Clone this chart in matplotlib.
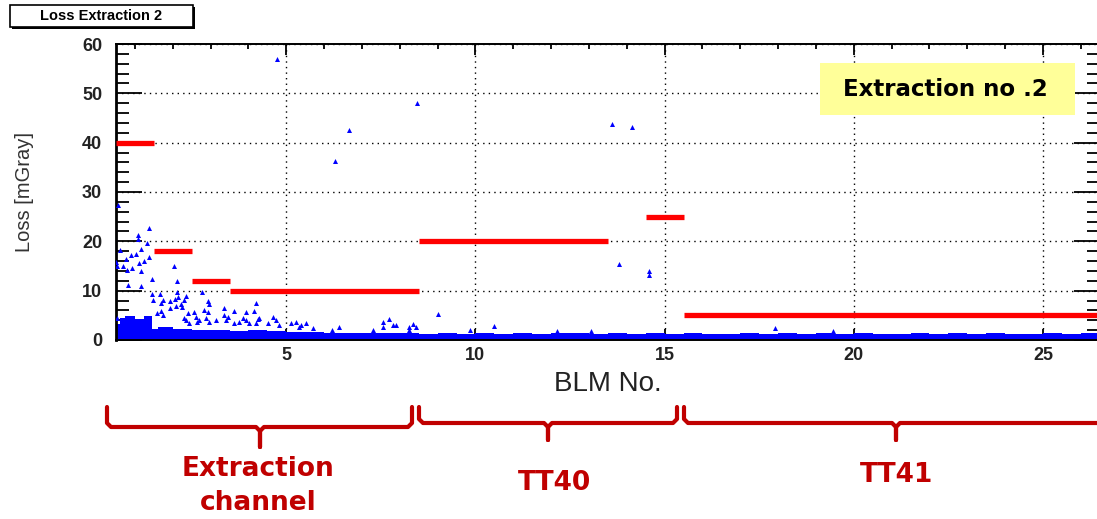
import matplotlib
matplotlib.use("Agg")
import matplotlib.pyplot as plt
from matplotlib.patches import Rectangle
from matplotlib.ticker import MultipleLocator

# Limiares por grupo de BLMs (inicio, fim, valor em mGray)
thr_start = [0.5, 1.5, 2.5, 3.5, 8.5, 14.5, 15.5]
thr_end = [1.5, 2.5, 3.5, 8.5, 13.5, 15.5, 26.5]
thr_value = [40, 18, 12, 10, 20, 25, 5]

# Faixa densa de perdas baixas (envelope superior por intervalo de BLM)
band_x = [0.5, 0.6, 0.75, 1.0, 1.25, 1.45, 1.6, 2.0, 2.5, 3.0, 3.5, 4.0, 4.5,
          5.0, 5.5, 6.0, 6.5, 7.0, 7.5, 8.0, 8.5, 9.0, 9.5, 10.0, 10.5, 11.0,
          11.5, 12.0, 12.5, 13.0, 13.5, 14.0, 14.5, 15.0, 15.5, 16.0, 16.5,
          17.0, 17.5, 18.0, 18.5, 19.0, 19.5, 20.0, 20.5, 21.0, 21.5, 22.0,
          22.5, 23.0, 23.5, 24.0, 24.5, 25.0, 25.5, 26.0, 26.5]
band_top = [3.2, 4.4, 4.8, 4.2, 4.9, 2.2, 2.6, 2.2, 2.0, 2.1, 1.9, 2.0, 1.8,
            1.6, 1.7, 1.5, 1.4, 1.5, 1.4, 1.5, 1.3, 1.5, 1.2, 1.4, 1.3, 1.5,
            1.2, 1.4, 1.5, 1.3, 1.4, 1.2, 1.5, 1.3, 1.4, 1.2, 1.3, 1.5, 1.2,
            1.4, 1.3, 1.5, 1.2, 1.4, 1.3, 1.2, 1.4, 1.3, 1.5, 1.2, 1.4, 1.3,
            1.2, 1.4, 1.3, 1.4, 1.4]

# Leituras isoladas acima da faixa
loss_x = [0.54, 1.38, 1.07, 1.09, 1.33, 0.60, 1.16, 1.02, 0.89, 1.38, 0.76,
          1.24, 0.50, 0.52, 0.69, 1.11, 0.93, 0.78, 1.16, 2.03, 1.46, 2.11,
          0.83, 1.16, 1.46, 1.66, 2.12, 2.35, 2.77, 1.49, 1.69, 1.74, 1.94,
          2.05, 2.15, 2.30, 2.22, 2.08, 2.25, 1.92, 1.70, 2.92, 2.97, 4.20,
          2.83, 2.92, 3.36, 3.62, 4.15, 2.40, 2.57, 2.61, 2.70, 2.88, 2.96,
          3.14, 2.35, 2.30, 2.43, 2.65, 3.36, 3.45, 3.40, 3.62, 3.76, 3.93,
          4.02, 3.85, 3.93, 4.24, 4.29, 4.20, 4.51, 4.64, 4.73, 4.81, 5.12,
          5.26, 5.34, 5.39, 5.52, 5.70, 6.22, 6.40, 7.28, 7.55, 7.72, 7.81,
          7.55, 7.90, 8.25, 8.34, 8.43, 8.24, 9.00, 1.73, 1.58, 0.52,
          4.75, 6.67, 6.30, 8.45, 13.60, 14.15, 13.79, 14.60, 14.60, 10.50,
          9.86, 17.91, 19.44, 12.15, 13.05]
loss_y = [27.3, 22.7, 21.2, 20.5, 19.7, 18.2, 18.5, 17.5, 17.2, 16.8, 16.5,
          16.0, 15.8, 15.0, 15.1, 15.6, 14.6, 14.1, 13.9, 15.0, 12.3, 11.9,
          11.2, 10.9, 9.4, 9.4, 9.7, 9.0, 9.8, 8.1, 7.6, 8.2, 8.0,
          8.4, 8.7, 8.1, 7.2, 6.8, 6.6, 6.4, 5.9, 7.9, 7.3, 7.6,
          6.0, 5.6, 6.4, 5.9, 5.9, 5.5, 5.7, 4.7, 4.0, 4.4, 3.7,
          4.0, 4.0, 4.4, 3.4, 3.7, 5.1, 4.7, 4.0, 3.4, 3.7, 4.0,
          3.4, 4.4, 5.6, 4.2, 4.4, 3.4, 3.4, 4.7, 4.0, 3.0, 3.4,
          3.7, 2.7, 3.0, 3.4, 2.4, 2.0, 2.6, 2.0, 3.7, 4.2, 3.0,
          2.7, 3.0, 2.6, 3.3, 2.7, 2.0, 5.2, 5.1, 5.4, 4.4,
          56.9, 42.6, 36.2, 48.1, 43.8, 43.2, 15.4, 13.9, 13.1, 2.8,
          2.0, 2.4, 1.9, 1.8, 1.9]

# Grupos de BLMs sob o eixo (inicio, fim, centro, topo, barra, ponta em pixels)
group_names = ["Extraction\nchannel", "TT40", "TT41"]
group_px = [(107, 412, 260, 407, 427, 447), (419, 677, 548, 407, 423, 440),
            (684, 1110, 896, 407, 423, 440)]
group_label_pos = [(258, 486), (555, 483), (897, 475)]

W, H = 1097, 519
fig = plt.figure(figsize=(W / 100, H / 100), dpi=100)
fig.patch.set_facecolor("white")

ax = fig.add_axes([116 / W, (H - 340) / H, (1099.7 - 116) / W, 296 / H])
ax.set_xlim(0.5, 26.5)
ax.set_ylim(0, 60)

# Grade pontilhada nos ticks principais
ax.grid(True, which="major", color="black", linestyle=(0, (1, 3)), linewidth=1.0)
ax.set_axisbelow(True)

# Faixa densa
ax.fill_between(band_x, band_top, 0, step="post", color="#0000FF", linewidth=0, zorder=2)
ax.scatter(loss_x, loss_y, marker="^", s=13, color="#0000FF", linewidths=0, zorder=3)

# Limiares
ax.hlines(thr_value, thr_start, thr_end, colors="#FF0000", linewidth=3.8, zorder=4)

ax.xaxis.set_major_locator(MultipleLocator(5))
ax.xaxis.set_minor_locator(MultipleLocator(1))
ax.yaxis.set_major_locator(MultipleLocator(10))
ax.yaxis.set_minor_locator(MultipleLocator(2))
ax.tick_params(axis="x", which="major", direction="in", length=8, width=1.3,
               top=True, pad=5)
ax.tick_params(axis="x", which="minor", direction="in", length=3.5, width=1.3, top=True)
ax.tick_params(axis="y", which="major", direction="in", length=19, width=1.3,
               right=True, pad=10)
ax.tick_params(axis="y", which="minor", direction="in", length=9.5, width=1.3, right=True)
for lab in ax.get_xticklabels() + ax.get_yticklabels():
    lab.set_fontfamily("Liberation Sans")
    lab.set_fontweight("bold")
    lab.set_fontsize(13)
    lab.set_color("#222222")
for sp in ax.spines.values():
    sp.set_linewidth(1.4)
ax.spines["left"].set_linewidth(2)

ax.set_xlabel("BLM No.", fontsize=20, family="Liberation Sans", color="#222222")
ax.xaxis.set_label_coords(0.5, -0.105)
ax.set_ylabel("Loss [mGray]", fontsize=14.5, family="Liberation Sans", color="#333333")
ax.yaxis.set_label_coords(-0.083, 0.5)

# Camada de anotacoes em pixels
ov = fig.add_axes([0, 0, 1, 1])
ov.set_xlim(0, W)
ov.set_ylim(H, 0)
ov.axis("off")
ov.patch.set_alpha(0)

# Caixa de titulo com sombra
ov.add_patch(Rectangle((12, 7), 183, 22, facecolor="black", edgecolor="none"))
ov.add_patch(Rectangle((10, 5), 183, 22, facecolor="white", edgecolor="black", linewidth=1.2))
ov.text(101, 16.5, "Loss Extraction 2", ha="center", va="center", fontsize=10.5,
        fontweight="bold", family="Liberation Sans")

# Caixa amarela
ov.add_patch(Rectangle((820, 63), 255, 52, facecolor="#FFFF99", edgecolor="none", zorder=5))
ov.text(945, 89, "Extraction no .2", ha="center", va="center", fontsize=16.5,
        fontweight="bold", family="DejaVu Sans", zorder=6)

red = "#C00000"
for (x0, x1, xm, yt, yb, ytip), name, (tx, ty) in zip(group_px, group_names, group_label_pos):
    r = 4
    ov.plot([x0, x0, x0 + r, xm - r, xm, xm, xm, xm + r, x1 - r, x1, x1],
            [yt, yb - r, yb, yb, yb + r, ytip, yb + r, yb, yb, yb - r, yt],
            color=red, linewidth=3, solid_joinstyle="round", solid_capstyle="round",
            clip_on=False)
    ov.text(tx, ty, name, ha="center", va="center", fontsize=19, fontweight="bold",
            color=red, family="DejaVu Sans", linespacing=1.35)

fig.savefig("out.png", dpi=100)
